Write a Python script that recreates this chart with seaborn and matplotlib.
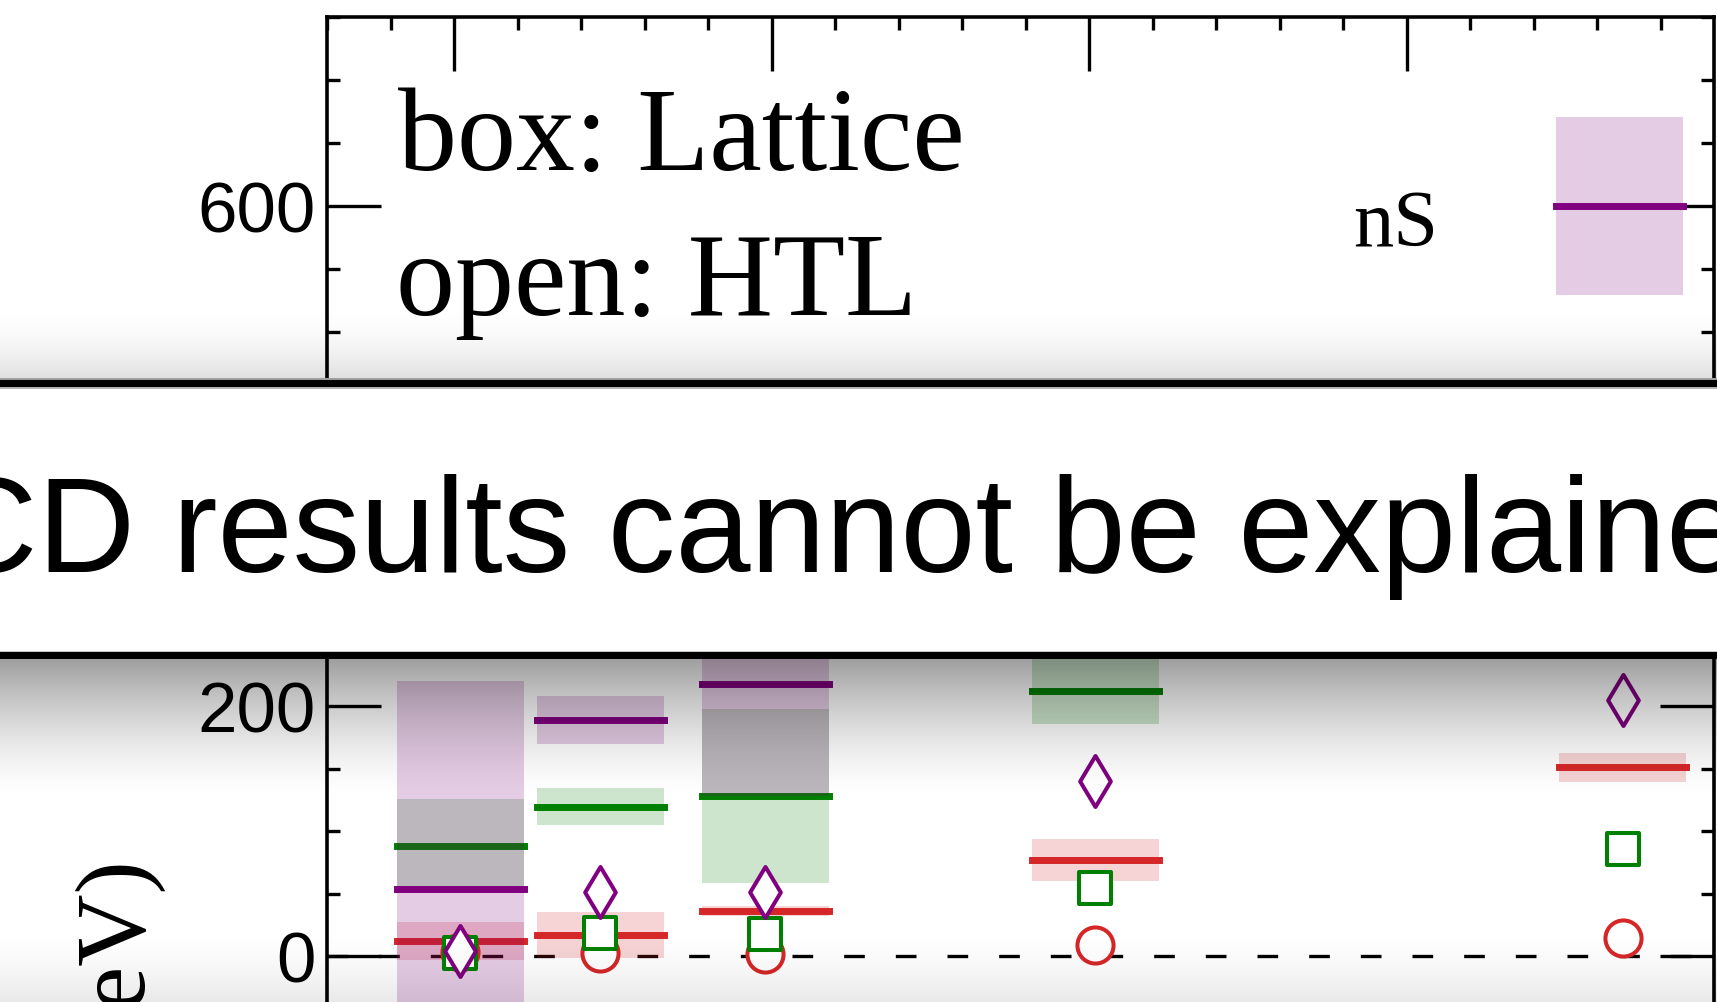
import numpy as np
import matplotlib
matplotlib.use("Agg")
import matplotlib.pyplot as plt
import seaborn as sns
from matplotlib.patches import Rectangle
from matplotlib.ticker import MultipleLocator

# ---- data: thermal widths of bottomonium states (MeV) vs temperature (MeV) ----
temperatures = [151, 173, 199, 251, 334]
states = ["1S", "2S", "3S"]
state_colors = {"1S": "#d62728", "2S": "green", "3S": "purple"}

# lattice results: central value and half-width of the band
lattice_gamma = {
    "1S": [12, 17, 36, 77, 151],
    "2S": [88, 119.5, 128, 212, None],
    "3S": [54, 189, 218, None, None],
}
lattice_err = {
    "1S": [15, 18.5, 4, 16.7, 11.5],
    "2S": [37.5, 15, 69.4, 26.4, None],
    "3S": [166, 19, 90, None, None],
}

# HTL results (open symbols)
htl_gamma = {
    "1S": [3, 2.4, 1.9, 8.8, 14.7],
    "2S": [2.6, 18.4, 17.9, 54.4, 85.6],
    "3S": [4, 51.5, 51, 139.7, 204.5],
}
htl_markers = {"1S": "o", "2S": "s", "3S": "d"}
htl_sizes = {"1S": 676, "2S": 529, "3S": 676}

legend_lines = ["box: Lattice", "open: HTL"]
legend_state = "nS"
banner_text = "QCD results cannot be explained"
y_label = "Γ (MeV)"

# ---- style ----
sns.set_theme(style="ticks")
plt.rcParams["font.family"] = ["Liberation Sans", "DejaVu Sans"]
plt.rcParams["text.color"] = "black"
plt.rcParams["axes.labelcolor"] = "black"
plt.rcParams["xtick.color"] = "black"
plt.rcParams["ytick.color"] = "black"
SERIF = ["Liberation Serif", "DejaVu Serif"]

W, H = 1717, 1003
fig = plt.figure(figsize=(W / 100, H / 100), dpi=100, facecolor="white")


def px_rect(left, top, right, bottom):
    return [left / W, 1 - bottom / H, (right - left) / W, (bottom - top) / H]


ax_top = fig.add_axes(px_rect(327, 18, 1714, 386))
ax_bot = fig.add_axes(px_rect(327, 657, 1714, 1057))

XLIM = (130, 348.4)

for ax in (ax_top, ax_bot):
    ax.set_facecolor("white")
    ax.set_xlim(*XLIM)
    ax.xaxis.set_major_locator(MultipleLocator(50))
    ax.xaxis.set_minor_locator(MultipleLocator(10))
    ax.yaxis.set_major_locator(MultipleLocator(200))
    ax.yaxis.set_minor_locator(MultipleLocator(50))
    ax.tick_params(which="both", direction="in", left=True, right=True,
                   width=2.4, labelbottom=False, labeltop=False,
                   labelsize=51, pad=8, colors="black", labelcolor="black")
    ax.tick_params(which="major", length=38.9)
    ax.tick_params(which="minor", length=9.4)
    for sp in ax.spines.values():
        sp.set_linewidth(2.6)
        sp.set_color("black")
        sp.set_visible(True)

ax_top.tick_params(which="both", top=True, bottom=False)
ax_bot.tick_params(which="both", top=False, bottom=True)
ax_top.set_ylim(457.9, 750)
ax_bot.set_ylim(-80, 240)

# ---- bottom panel: lattice bands, HTL symbols ----
ax_bot.axhline(0, color="black", lw=2.4, ls=(0, (6.2, 9.3)), zorder=1)

for i, st in enumerate(["2S", "1S", "3S"]):
    col = state_colors[st]
    z = 2 + 0.2 * i
    for T, c, e in zip(temperatures, lattice_gamma[st], lattice_err[st]):
        if c is None:
            continue
        ax_bot.bar(T, 2 * e, bottom=c - e, width=20, color=col, alpha=0.2,
                   linewidth=0, zorder=z)
        ax_bot.plot([T - 10, T + 10], [c, c], color=col, lw=5,
                    solid_capstyle="projecting", zorder=z + 0.1)

for k, st in enumerate(states):
    col = state_colors[st]
    sns.scatterplot(x=temperatures, y=htl_gamma[st], marker=htl_markers[st],
                    s=htl_sizes[st], color=col, facecolor="white",
                    edgecolor=col, linewidth=2.9, ax=ax_bot, zorder=5 + k,
                    legend=False)
ax_bot.set_xlim(*XLIM)
ax_bot.set_ylim(-80, 240)
ax_bot.set_xlabel("")
ax_bot.set_ylabel("")

# ---- top panel: legend ----
ax_top.text(141.2, 629.4, legend_lines[0], family=SERIF, fontsize=85,
            va="baseline", ha="left", color="black")
ax_top.text(140.8, 514.3, legend_lines[1], family=SERIF, fontsize=85,
            va="baseline", ha="left", color="black")
ax_top.text(291.6, 568.3, legend_state, family=SERIF, fontsize=58,
            va="baseline", ha="left", color="black")
LEG_X, LEG_Y, LEG_H = 333.5, 600, 71
ax_top.bar(LEG_X, 2 * LEG_H, bottom=LEG_Y - LEG_H, width=20,
           color=state_colors["3S"], alpha=0.2, linewidth=0, zorder=2)
ax_top.plot([LEG_X - 10, LEG_X + 10], [LEG_Y, LEG_Y], color=state_colors["3S"],
            lw=5, solid_capstyle="projecting", zorder=2.1)

# y-axis label
fig.text(145 / W, 1 - 860 / H, y_label, rotation=90, rotation_mode="anchor",
         ha="right", va="baseline", fontsize=72, family=SERIF, color="black")

# ---- slide overlay: banner and shading ----
ov = fig.add_axes([0, 0, 1, 1], zorder=10)
ov.set_xlim(0, W)
ov.set_ylim(H, 0)
ov.axis("off")
ov.patch.set_alpha(0)

ov.add_patch(Rectangle((0, 388), W, 265, fc="white", ec="none", zorder=1))
ov.add_patch(Rectangle((0, 379), W, 2, fc="#b4b4b4", ec="none", zorder=2))
ov.add_patch(Rectangle((0, 388), W, 1.5, fc="#b4b4b4", ec="none", zorder=2))
ov.add_patch(Rectangle((0, 651.5), W, 1.5, fc="#c8c8c8", ec="none", zorder=2))
ov.add_patch(Rectangle((0, 381), W, 7, fc="black", ec="none", zorder=3))
ov.add_patch(Rectangle((0, 653), W, 7, fc="black", ec="none", zorder=3))
ov.text(-164.5, 571.7, banner_text, fontsize=97.2,
        family=["Liberation Sans", "DejaVu Sans"], ha="left", va="baseline",
        color="black", zorder=4)

yy = np.arange(H) + 0.5
alpha = np.zeros(H)
m = (yy >= 300) & (yy < 381)
alpha[m] = 0.13 * ((yy[m] - 300) / 81) ** 2
m = (yy >= 660) & (yy < 800)
alpha[m] = 0.38 * ((800 - yy[m]) / 140) ** 1.5
m = yy >= 930
alpha[m] = 0.09 * ((yy[m] - 930) / 73) ** 1.5
shade = np.zeros((H, 1, 4))
shade[:, 0, 3] = alpha
ov.imshow(shade, extent=(0, W, H, 0), aspect="auto",
          interpolation="bilinear", zorder=5)
ov.set_xlim(0, W)
ov.set_ylim(H, 0)

fig.savefig("out.png", dpi=100, facecolor="white")
